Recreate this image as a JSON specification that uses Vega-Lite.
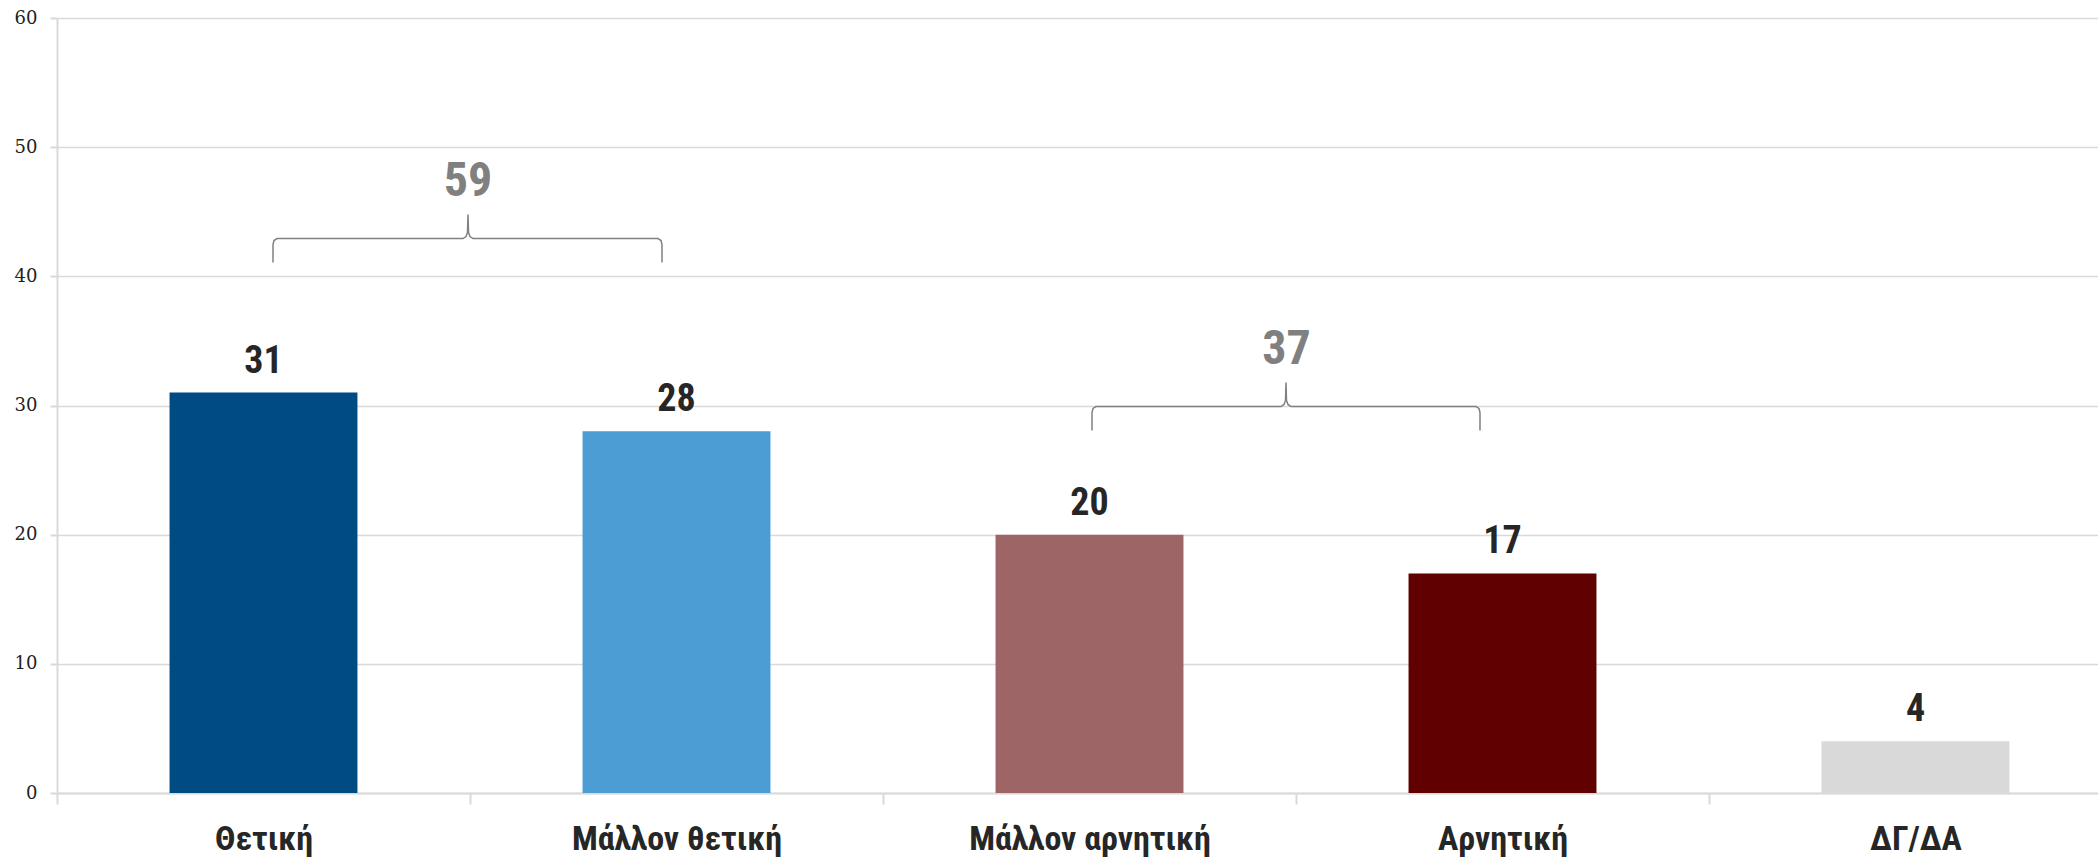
{
  "$schema": "https://vega.github.io/schema/vega-lite/v6.json",
  "width": 2041,
  "height": 775,
  "autosize": {"type": "none"},
  "padding": {"left": 57, "top": 18, "right": 0, "bottom": 68},
  "background": "white",
  "config": {"view": {"stroke": null}},
  "datasets": {
    "bars": [
      {"cat": "Θετική", "value": 31},
      {"cat": "Μάλλον θετική", "value": 28},
      {"cat": "Μάλλον αρνητική", "value": 20},
      {"cat": "Αρνητική", "value": 17},
      {"cat": "ΔΓ/ΔΑ", "value": 4}
    ],
    "braces": [
      {"group": "59", "i": 1, "bx": 0.5230, "by": 41.07},
      {"group": "59", "i": 2, "bx": 0.5230, "by": 42.46},
      {"group": "59", "i": 3, "bx": 0.5254, "by": 42.77},
      {"group": "59", "i": 4, "bx": 0.5327, "by": 42.92},
      {"group": "59", "i": 5, "bx": 0.9831, "by": 42.92},
      {"group": "59", "i": 6, "bx": 0.9903, "by": 43.08},
      {"group": "59", "i": 7, "bx": 0.9939, "by": 43.39},
      {"group": "59", "i": 8, "bx": 0.9952, "by": 44.78},
      {"group": "59", "i": 9, "bx": 0.9964, "by": 43.39},
      {"group": "59", "i": 10, "bx": 1.0000, "by": 43.08},
      {"group": "59", "i": 11, "bx": 1.0073, "by": 42.92},
      {"group": "59", "i": 12, "bx": 1.4552, "by": 42.92},
      {"group": "59", "i": 13, "bx": 1.4625, "by": 42.77},
      {"group": "59", "i": 14, "bx": 1.4649, "by": 42.46},
      {"group": "59", "i": 15, "bx": 1.4649, "by": 41.07},
      {"group": "37", "i": 1, "bx": 2.5061, "by": 28.07},
      {"group": "37", "i": 2, "bx": 2.5061, "by": 29.46},
      {"group": "37", "i": 3, "bx": 2.5085, "by": 29.77},
      {"group": "37", "i": 4, "bx": 2.5157, "by": 29.92},
      {"group": "37", "i": 5, "bx": 2.9637, "by": 29.92},
      {"group": "37", "i": 6, "bx": 2.9709, "by": 30.08},
      {"group": "37", "i": 7, "bx": 2.9746, "by": 30.39},
      {"group": "37", "i": 8, "bx": 2.9758, "by": 31.78},
      {"group": "37", "i": 9, "bx": 2.9770, "by": 30.39},
      {"group": "37", "i": 10, "bx": 2.9806, "by": 30.08},
      {"group": "37", "i": 11, "bx": 2.9879, "by": 29.92},
      {"group": "37", "i": 12, "bx": 3.4358, "by": 29.92},
      {"group": "37", "i": 13, "bx": 3.4431, "by": 29.77},
      {"group": "37", "i": 14, "bx": 3.4455, "by": 29.46},
      {"group": "37", "i": 15, "bx": 3.4455, "by": 28.07}
    ],
    "braceLabels": [
      {"label": "59", "bx": 0.995, "by": 46.2},
      {"label": "37", "bx": 2.977, "by": 33.23}
    ]
  },
  "layer": [
    {
      "data": {"name": "bars"},
      "encoding": {
        "x": {
          "field": "cat",
          "type": "nominal",
          "sort": null,
          "scale": {"range": [0, 2065], "paddingInner": 0.545, "paddingOuter": 0.2725},
          "axis": {
            "title": null,
            "labelAngle": 0,
            "labelFont": "'Liberation Sans Narrow', 'Roboto Condensed', Roboto",
            "labelFontSize": 34,
            "labelFontWeight": "bold",
            "labelColor": "#262626",
            "labelBaseline": "alphabetic",
            "labelPadding": 45,
            "labelLimit": 0,
            "labelOverlap": false,
            "tickOffset": -206.5,
            "labelOffset": 206.5,
            "tickSize": 11,
            "tickColor": "#d9d9d9",
            "tickWidth": 2,
            "domainColor": "#d9d9d9",
            "domainWidth": 2,
            "grid": false
          }
        },
        "y": {
          "field": "value",
          "type": "quantitative",
          "scale": {"domain": [0, 60]},
          "axis": {
            "title": null,
            "values": [0, 10, 20, 30, 40, 50, 60],
            "labelFont": "DejaVu Serif",
            "labelFontSize": 18,
            "labelColor": "#222222",
            "labelPadding": 13,
            "labelFlush": false,
            "tickSize": 7,
            "tickColor": "#d9d9d9",
            "tickWidth": 2,
            "domainColor": "#d9d9d9",
            "domainWidth": 2,
            "gridColor": "#d9d9d9",
            "gridWidth": 1.5
          }
        }
      },
      "layer": [
        {
          "mark": {"type": "bar"},
          "encoding": {
            "color": {
              "field": "cat",
              "type": "nominal",
              "legend": null,
              "scale": {
                "domain": ["Θετική", "Μάλλον θετική", "Μάλλον αρνητική", "Αρνητική", "ΔΓ/ΔΑ"],
                "range": ["#014b83", "#4c9dd4", "#9e6566", "#600000", "#d9d9d9"]
              }
            }
          }
        },
        {
          "mark": {
            "type": "text",
            "dy": -20,
            "baseline": "alphabetic",
            "font": "'Liberation Sans Narrow', 'Roboto Condensed', Roboto",
            "fontSize": 38,
            "fontWeight": "bold",
            "color": "#262626"
          },
          "encoding": {"text": {"field": "value", "type": "quantitative"}}
        }
      ]
    },
    {
      "data": {"name": "braces"},
      "mark": {"type": "line", "color": "#808080", "strokeWidth": 1.5},
      "encoding": {
        "x": {"field": "bx", "type": "quantitative", "scale": {"domain": [0, 5], "range": [0, 2065], "nice": false, "zero": false}, "axis": null},
        "y": {"field": "by", "type": "quantitative", "scale": {"domain": [0, 60], "nice": false}, "axis": null},
        "detail": {"field": "group", "type": "nominal"},
        "order": {"field": "i", "type": "quantitative"}
      }
    },
    {
      "data": {"name": "braceLabels"},
      "mark": {
        "type": "text",
        "baseline": "alphabetic",
        "font": "'Liberation Sans Narrow', 'Roboto Condensed', Roboto",
        "fontSize": 48,
        "fontWeight": "bold",
        "color": "#808080"
      },
      "encoding": {
        "x": {"field": "bx", "type": "quantitative", "scale": {"domain": [0, 5], "range": [0, 2065], "nice": false, "zero": false}, "axis": null},
        "y": {"field": "by", "type": "quantitative", "scale": {"domain": [0, 60], "nice": false}, "axis": null},
        "text": {"field": "label", "type": "nominal"}
      }
    }
  ],
  "resolve": {"scale": {"x": "independent", "y": "independent"}, "axis": {"x": "independent", "y": "independent"}}
}
